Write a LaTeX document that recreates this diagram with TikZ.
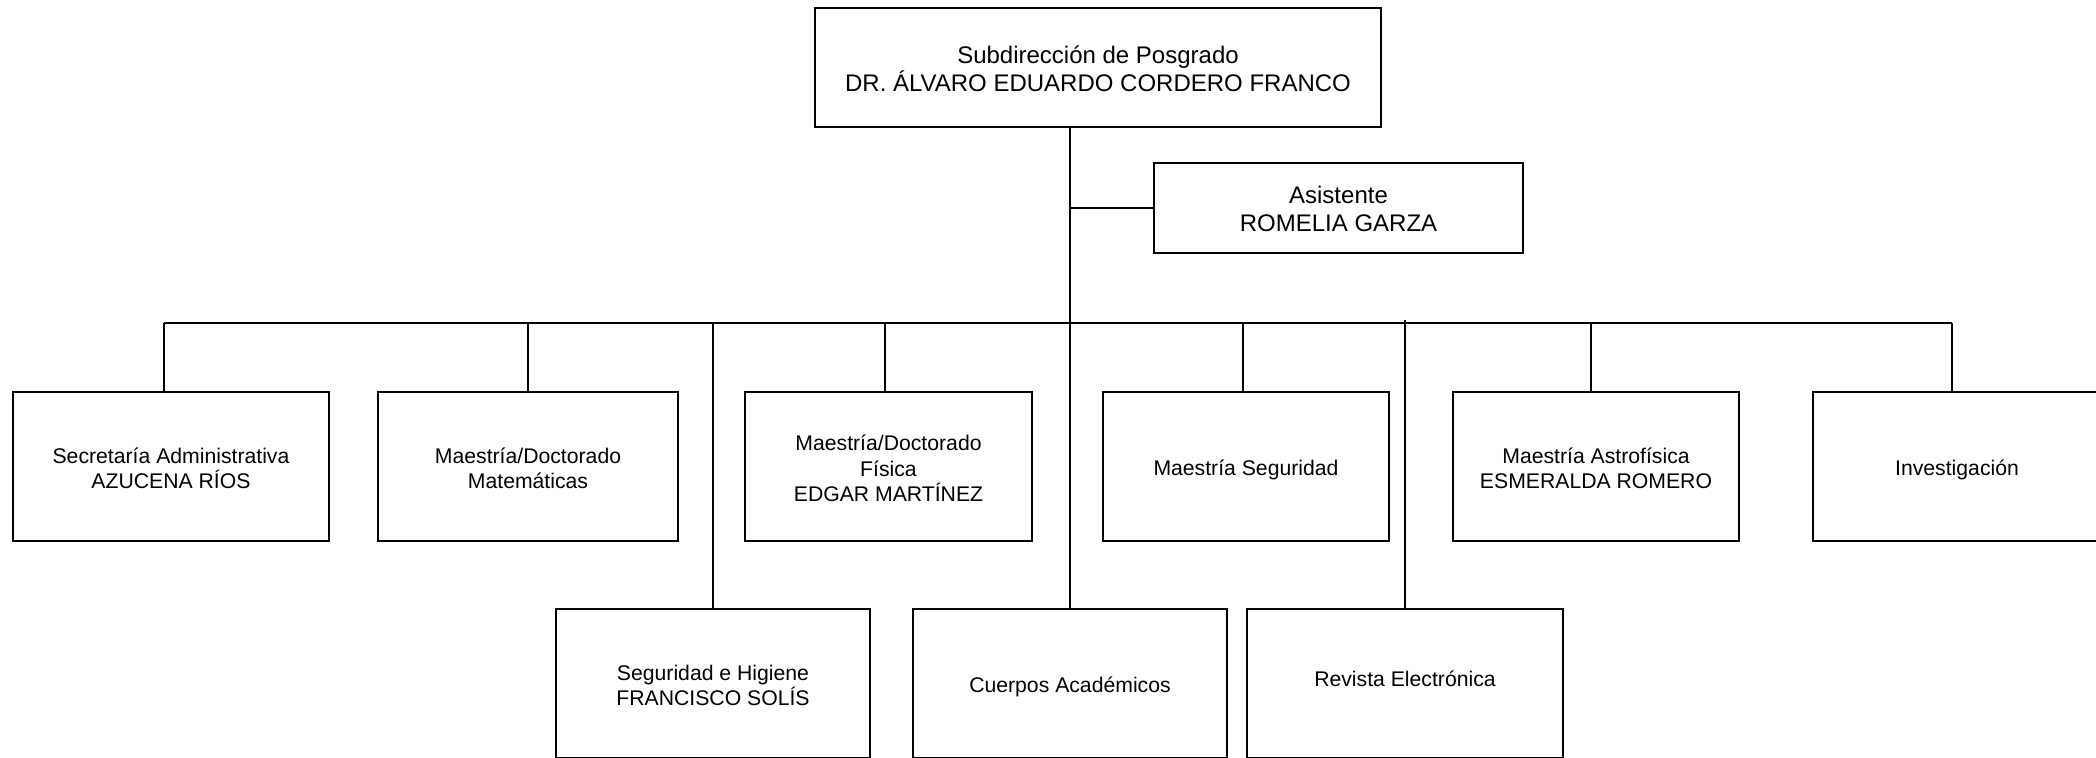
\documentclass[tikz,border=0pt]{standalone}
\usepackage{fontspec}
\setmainfont{Liberation Sans}
\newcommand\orgtopbig{\rule{0pt}{12.4pt}}
\newcommand\orgtopsmall{\rule{0pt}{12pt}}
\begin{document}
\begin{tikzpicture}[x=0.5pt,y=-0.5pt,
  orgbox/.style={draw=black, line width=1.3pt, align=center, inner sep=0pt},
  bigtext/.style={font=\fontsize{12}{14}\selectfont,
    execute at end node={\rule[-2.55pt]{0pt}{0pt}}},
  smalltext/.style={font=\fontsize{10.6}{12.7}\selectfont,
    execute at begin node={\rule{0pt}{11.3pt}},
    execute at end node={\rule[-2.25pt]{0pt}{0pt}}},
  smallmulti/.style={font=\fontsize{10.6}{12.7}\selectfont,
    execute at end node={\rule[-2.25pt]{0pt}{0pt}}},
  link/.style={draw=black, line width=1pt}]
\useasboundingbox (0,0) rectangle (2096,757);
\clip (0,0) rectangle (2096,757);
% top
\node[orgbox,bigtext,minimum width=283pt,minimum height=59.5pt] (top) at (1098,67.5)
  {\orgtopbig Subdirección de Posgrado\\DR. ÁLVARO EDUARDO CORDERO FRANCO};
\node[orgbox,bigtext,minimum width=184.5pt,minimum height=45pt] (asis) at (1338.5,208)
  {\orgtopbig Asistente\\ROMELIA GARZA};
% row 1
\node[orgbox,smallmulti,minimum width=158pt,minimum height=74.5pt] (sec) at (171,466.5)
  {\orgtopsmall Secretaría Administrativa\\AZUCENA RÍOS};
\node[orgbox,smallmulti,minimum width=150pt,minimum height=74.5pt] (mat) at (528,466.5)
  {\orgtopsmall Maestría/Doctorado\\Matemáticas};
\node[orgbox,smallmulti,minimum width=143.5pt,minimum height=74.5pt] (fis) at (888.5,466.5)
  {\orgtopsmall Maestría/Doctorado\\Física\\EDGAR MARTÍNEZ};
\node[orgbox,smalltext,minimum width=143pt,minimum height=74.5pt] (seg) at (1246,466.5)
  {Maestría Seguridad};
\node[orgbox,smallmulti,minimum width=143pt,minimum height=74.5pt] (ast) at (1596,466.5)
  {\orgtopsmall Maestría Astrofísica\\ESMERALDA ROMERO};
\node[orgbox,smalltext,minimum width=144pt,minimum height=74.5pt] (inv) at (1957,466.5)
  {Investigación};
% row 2
\node[orgbox,smallmulti,minimum width=157pt,minimum height=74.5pt] (shig) at (713,683.5)
  {\orgtopsmall Seguridad e Higiene\\FRANCISCO SOLÍS};
\node[orgbox,smalltext,minimum width=157pt,minimum height=74.5pt] (cuer) at (1070,683.5)
  {Cuerpos Académicos};
\node[orgbox,minimum width=158pt,minimum height=74.5pt] (rev) at (1405,683.5) {};
\node[smalltext,inner sep=0pt] (revt) at (1405,677.5) {Revista Electrónica};
% connectors
\coordinate (bus) at (0,323);
\draw[link] (cuer.north |- top.south) -- (cuer.north);
\draw[link] (asis.west) -- (asis.west -| cuer.north);
\draw[link] ([xshift=-3.5pt]sec.north |- bus) -- ([xshift=-2.5pt]inv.north |- bus);
\draw[link] ([xshift=-3.5pt]sec.north |- bus) -- ([xshift=-3.5pt]sec.north);
\draw[link] (mat.north |- bus) -- (mat.north);
\draw[link] ([xshift=-1.75pt]fis.north |- bus) -- ([xshift=-1.75pt]fis.north);
\draw[link] ([xshift=-1.5pt]seg.north |- bus) -- ([xshift=-1.5pt]seg.north);
\draw[link] ([xshift=-2.5pt]ast.north |- bus) -- ([xshift=-2.5pt]ast.north);
\draw[link] ([xshift=-2.5pt]inv.north |- bus) -- ([xshift=-2.5pt]inv.north);
\draw[link] (shig.north |- bus) -- (shig.north);
\draw[link] ([yshift=1.5pt]rev.north |- bus) -- (rev.north);
\end{tikzpicture}
\end{document}
